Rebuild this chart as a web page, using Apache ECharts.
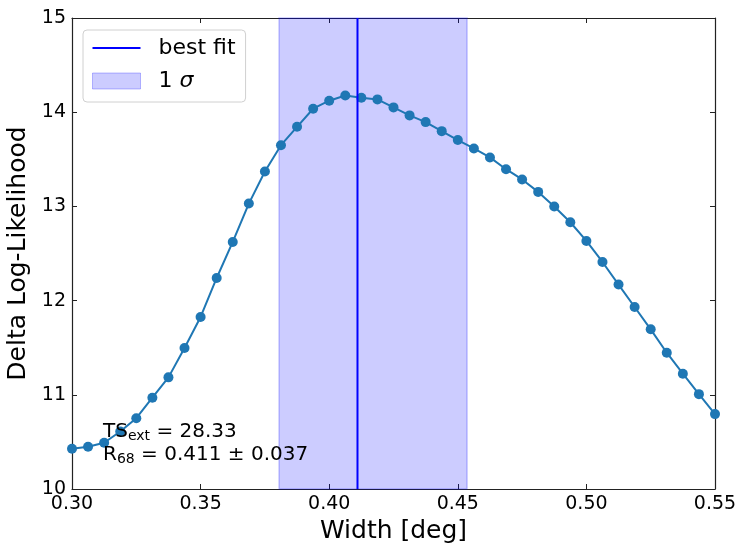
<!DOCTYPE html>
<html>
<head>
<meta charset="utf-8">
<script src="https://cdn.jsdelivr.net/npm/echarts@6/dist/echarts.min.js"></script>
<style>
html,body{margin:0;padding:0;background:#fff;}
#chart{width:748px;height:554px;}
</style>
</head>
<body>
<div id="chart"></div>
<script>
// widths scanned (deg)
var widths = [0.3, 0.30625, 0.3125, 0.31875, 0.325, 0.33125, 0.3375, 0.34375, 0.35, 0.35625,
  0.3625, 0.36875, 0.375, 0.38125, 0.3875, 0.39375, 0.4, 0.40625, 0.4125, 0.41875,
  0.425, 0.43125, 0.4375, 0.44375, 0.45, 0.45625, 0.4625, 0.46875, 0.475, 0.48125,
  0.4875, 0.49375, 0.5, 0.50625, 0.5125, 0.51875, 0.525, 0.53125, 0.5375, 0.54375, 0.55];
var deltaLogL = [10.427, 10.448, 10.491, 10.61, 10.752, 10.969, 11.185, 11.497, 11.826, 12.240,
  12.623, 13.030, 13.370, 13.650, 13.845, 14.037, 14.122, 14.178, 14.153, 14.136,
  14.051, 13.966, 13.895, 13.799, 13.704, 13.615, 13.520, 13.395, 13.286, 13.154,
  12.999, 12.832, 12.633, 12.410, 12.170, 11.932, 11.695, 11.447, 11.224, 11.007, 10.795];
var bestFit = 0.411;
var sigmaBand = [0.3805, 0.4536];
var xTicks = [0.30, 0.55, 0.05];
var yTicks = [10, 15, 1];

var pts = [];
for (var i = 0; i < widths.length; i++) pts.push([widths[i], deltaLogL[i]]);

var chart = echarts.init(document.getElementById('chart'), null, {renderer: 'canvas'});
var font = 'DejaVu Sans';
var axisLine = {show: true, lineStyle: {color: '#222', width: 1.2}};
var tick = {show: true, inside: true, length: 5, lineStyle: {color: '#222', width: 1}};

var option = {
  animation: false,
  backgroundColor: '#fff',
  textStyle: {fontFamily: font},
  grid: {left: 72, right: 33, top: 18, bottom: 65, containLabel: false, outerBoundsMode: 'none'},
  legend: {
    orient: 'vertical',
    left: 83, top: 30,
    padding: [7, 10, 10, 9],
    itemGap: 11,
    itemWidth: 48, itemHeight: 16,
    backgroundColor: '#fff',
    borderColor: '#d0d0d0', borderWidth: 1, borderRadius: 4,
    textStyle: {fontFamily: font, fontSize: 22, color: '#000', padding: [0, 0, 0, 13],
      rich: {
        a: {fontFamily: font, fontSize: 22, color: '#000'},
        b: {fontFamily: font, fontStyle: 'italic', fontSize: 22, color: '#000'}
      }},
    data: [
      {name: 'best fit', icon: 'path://M0,0 L48,0 L48,2 L0,2 Z', itemStyle: {color: '#0000ff'}},
      {name: '1 σ', icon: 'rect', itemStyle: {color: 'rgba(0,0,255,0.2)', borderColor: 'rgba(0,0,255,0.25)', borderWidth: 1}}
    ],
    formatter: function (n) { return n === '1 σ' ? '{a|1 }{b|σ}' : n; }
  },
  xAxis: [{
    type: 'value', min: xTicks[0], max: xTicks[1], interval: xTicks[2],
    name: 'Width [deg]', nameLocation: 'middle', nameGap: 25,
    nameTextStyle: {fontFamily: font, fontSize: 25, color: '#000'},
    axisLine: axisLine, axisTick: tick, splitLine: {show: false},
    axisLabel: {fontFamily: font, fontSize: 19, color: '#000', margin: 6,
      formatter: function (v) { return v.toFixed(2); }}
  }, {
    type: 'value', position: 'top', min: xTicks[0], max: xTicks[1], interval: xTicks[2],
    axisLine: axisLine, axisTick: tick, axisLabel: {show: false}, splitLine: {show: false}
  }],
  yAxis: [{
    type: 'value', min: yTicks[0], max: yTicks[1], interval: yTicks[2],
    name: 'Delta Log-Likelihood', nameLocation: 'middle', nameGap: 34,
    nameTextStyle: {fontFamily: font, fontSize: 25, color: '#000'},
    axisLine: axisLine, axisTick: tick, splitLine: {show: false},
    axisLabel: {fontFamily: font, fontSize: 19, color: '#000', margin: 6}
  }, {
    type: 'value', position: 'right', min: yTicks[0], max: yTicks[1], interval: yTicks[2],
    axisLine: axisLine, axisTick: tick, axisLabel: {show: false}, splitLine: {show: false}
  }],
  series: [
    {
      name: '1 σ', type: 'line', data: [], silent: true, z: 1,
      itemStyle: {color: 'rgba(0,0,255,0.2)'},
      markArea: {
        silent: true,
        itemStyle: {color: 'rgba(0,0,255,0.2)', borderColor: 'rgba(0,0,255,0.22)', borderWidth: 1.5},
        data: [[{xAxis: sigmaBand[0]}, {xAxis: sigmaBand[1]}]]
      }
    },
    {
      name: 'scan', type: 'line', data: pts, z: 3,
      symbol: 'circle', symbolSize: 10, showSymbol: true,
      lineStyle: {color: '#1f77b4', width: 2},
      itemStyle: {color: '#1f77b4'}
    },
    {
      name: 'best fit', type: 'line', z: 4, symbol: 'none',
      data: [[bestFit, yTicks[0]], [bestFit, yTicks[1]]],
      lineStyle: {color: '#0000ff', width: 2},
      itemStyle: {color: '#0000ff'}
    }
  ],
  graphic: [{
    type: 'text', left: 103, top: 420, z: 10,
    style: {
      text: '{n|TS}{s|ext}{n| = 28.33}\n{n|R}{s|68}{n| = 0.411 ± 0.037}',
      rich: {
        n: {fontFamily: font, fontSize: 20, fill: '#000', lineHeight: 23},
        s: {fontFamily: font, fontSize: 14, fill: '#000', lineHeight: 23, padding: [9, 0, 0, 0]}
      }
    }
  }]
};
chart.setOption(option);
</script>
</body>
</html>
